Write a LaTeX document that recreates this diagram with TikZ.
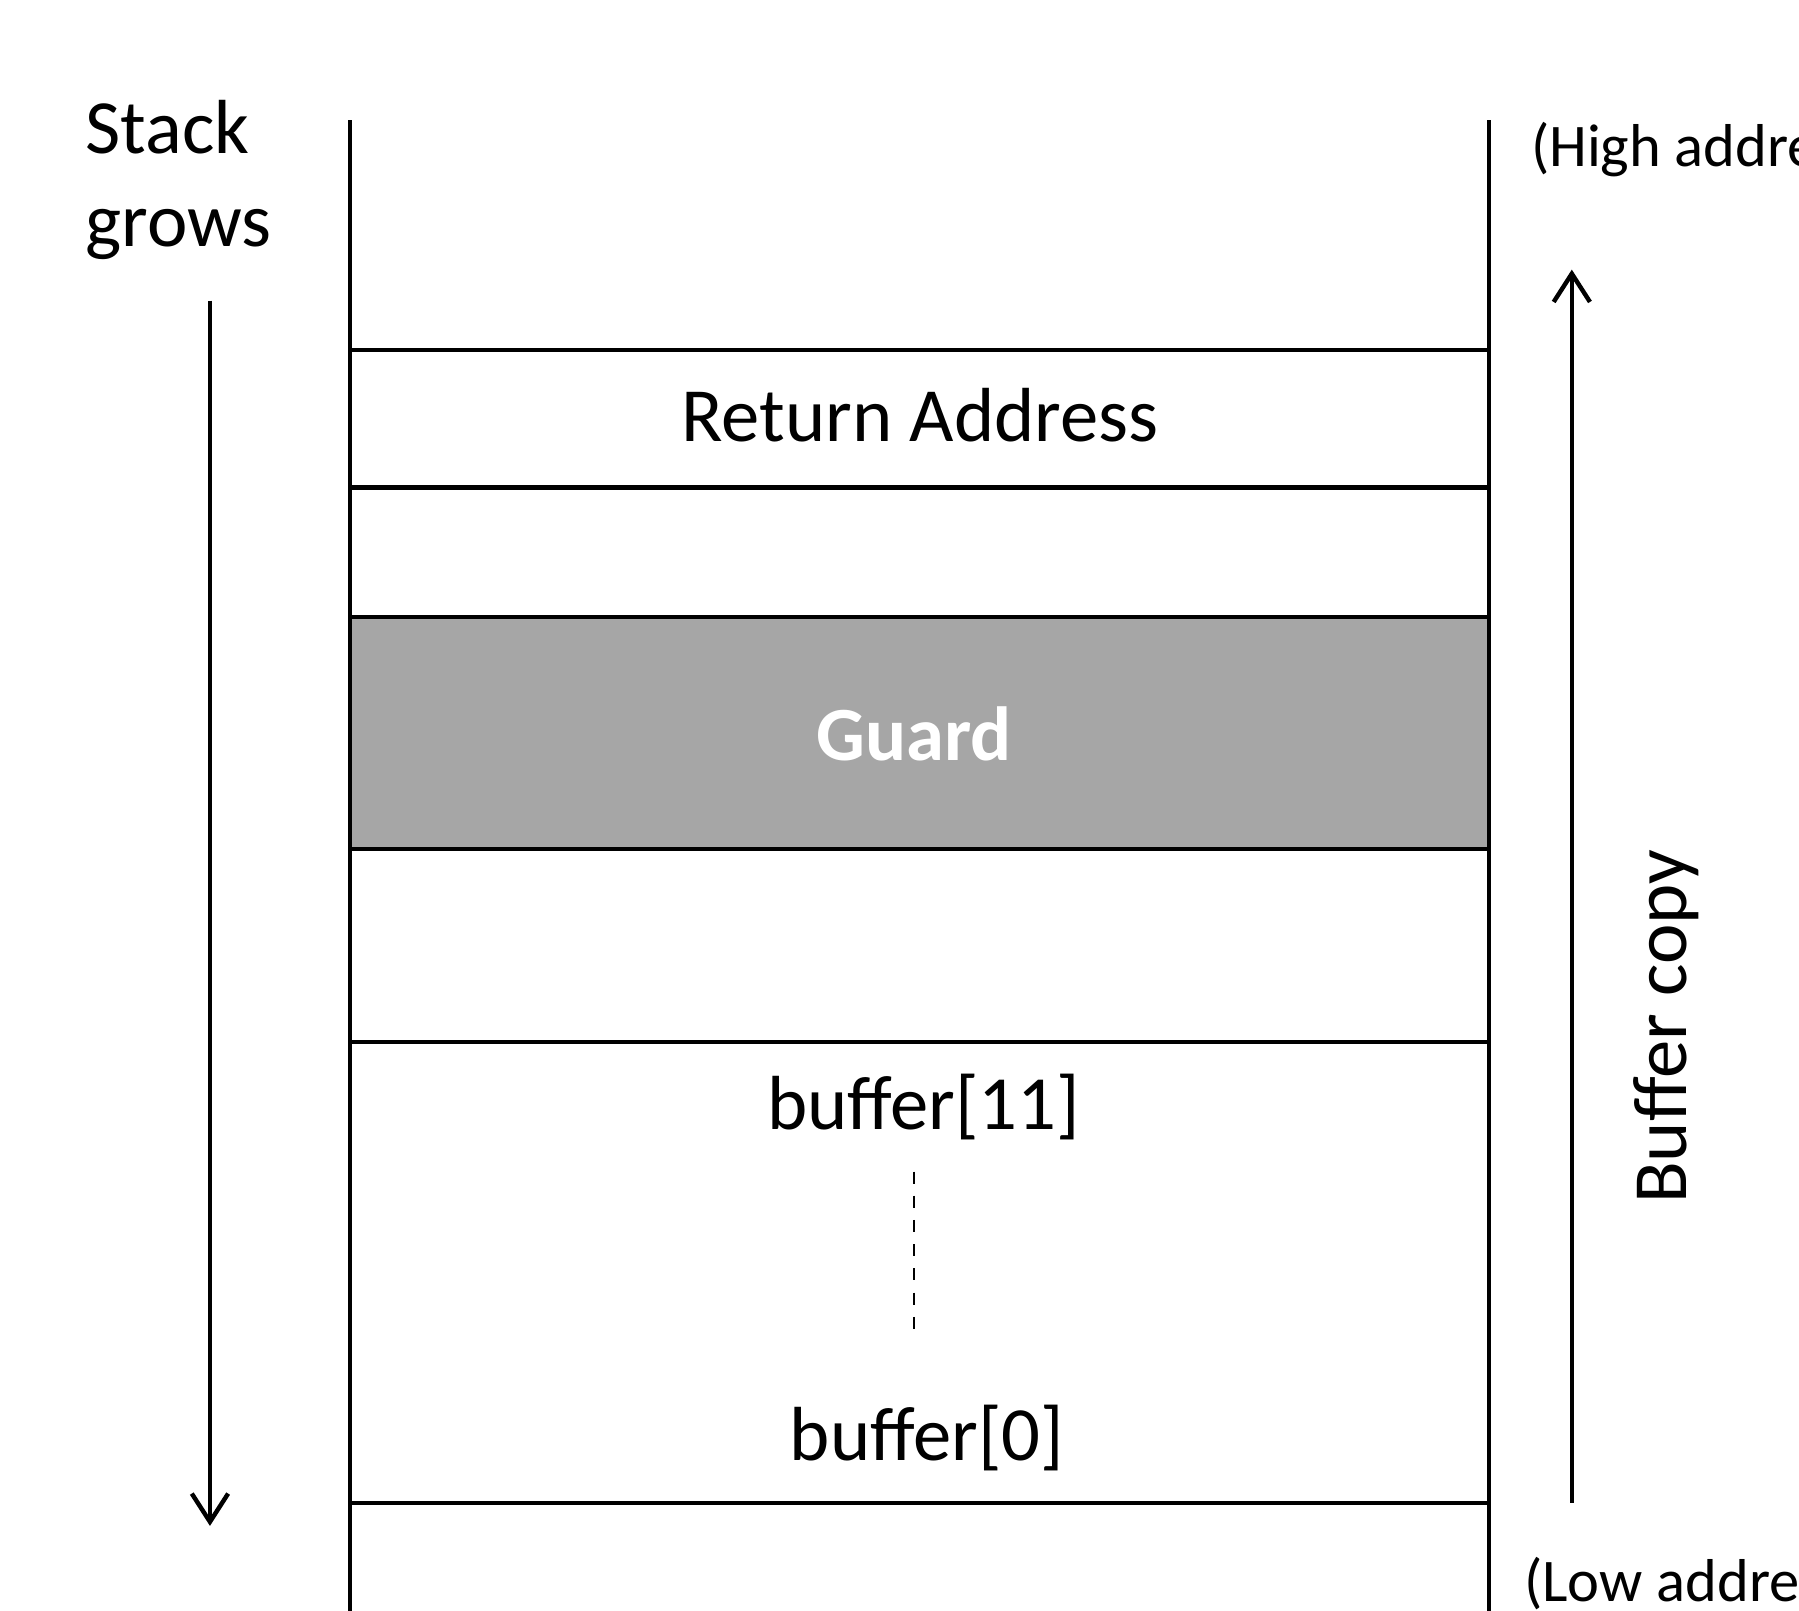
\documentclass[tikz,border=0pt]{standalone}
\usepackage{fontspec}
\setmainfont{Carlito}
\usetikzlibrary{positioning,calc,arrows.meta}

\begin{document}
\begin{tikzpicture}[x=0.01cm,y=-0.01cm]
\tikzset{myFont/.style={font=\fontsize{19}{23}\selectfont}}
\tikzset{mySmall/.style={font=\fontsize{15}{18}\selectfont}}
\tikzset{myLine/.style={line width=1.1pt}}
\tikzset{myArrow/.style={myLine,-{Straight Barb[length=7pt,width=9pt]}}}
\tikzset{myGray/.style={fill=gray!70}}

\useasboundingbox (0,0) rectangle (1568,1404);
\clip (0,0) rectangle (1568,1404);

% stack frame
\fill[myGray] (305,538) rectangle (1298,740);
\draw[myLine] (305,105) -- (305,1404);
\draw[myLine] (1298,105) -- (1298,1404);
\foreach \y in {305,425,538,740,908,1310}
  \draw[myLine] (305,\y) -- (1298,\y);

\node[myFont] (ret) at (802,362) {Return Address};
\node[myFont,text=white,font=\fontsize{19}{23}\selectfont\bfseries] (guard) at (797,640) {Guard};
\node[myFont] (buf11) at (805,965) {buffer[11]};
\node[myFont] (buf0) at (808,1253) {buffer[0]};
\draw[dashed,line width=0.5pt] (buf11.south -| 797,0) ++(0,15) coordinate (d1) -- ($(buf0.north -| 797,0)+(0,-45)$) coordinate (d2);

% stack direction
\node[myFont,anchor=north west,align=left] (grows) at (62,75) {Stack\\grows};
\coordinate (sTop) at (183,262);
\coordinate (sBot) at (183,1330);
\draw[myArrow] (sTop) -- (sBot);

% copy direction
\coordinate (cBot) at (1370,1310);
\coordinate (cTop) at (1370,235);
\draw[myArrow] (cBot) -- (cTop);
\node[myFont,rotate=90] (copy) at (1452,895) {Buffer copy};

\node[mySmall,anchor=west] (high) at (1322,130) {(High address)};
\node[mySmall,anchor=west] (low) at (1316,1380) {(Low address)};
\end{tikzpicture}
\end{document}
